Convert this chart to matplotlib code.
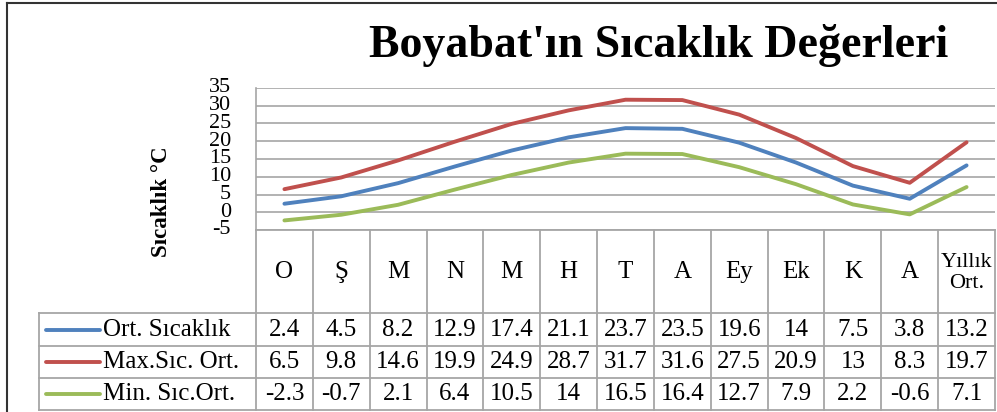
import numpy as np
import matplotlib
matplotlib.use("Agg")
import matplotlib.pyplot as plt

# ---- data ----
months = ["O", "Ş", "M", "N", "M", "H", "T", "A", "Ey", "Ek", "K", "A", "Yıllık\nOrt."]
series_names = ["Ort. Sıcaklık", "Max.Sıc. Ort.", "Min. Sıc.Ort."]
ort = [2.4, 4.5, 8.2, 12.9, 17.4, 21.1, 23.7, 23.5, 19.6, 14, 7.5, 3.8, 13.2]
maxs = [6.5, 9.8, 14.6, 19.9, 24.9, 28.7, 31.7, 31.6, 27.5, 20.9, 13, 8.3, 19.7]
mins = [-2.3, -0.7, 2.1, 6.4, 10.5, 14, 16.5, 16.4, 12.7, 7.9, 2.2, -0.6, 7.1]
yticks = [-5, 0, 5, 10, 15, 20, 25, 30, 35]
title = "Boyabat'ın Sıcaklık Değerleri"
ylabel = "Sıcaklık °C"

colors = ["#4F81BD", "#C0504D", "#9BBB59"]
series = [ort, maxs, mins]

SERIF = ["Liberation Serif", "DejaVu Serif"]
W, H = 997, 412
fig = plt.figure(figsize=(W / 100, H / 100), dpi=100)
fig.patch.set_facecolor("white")

# overlay axes in pixel coordinates (for table & frame)
ov = fig.add_axes([0, 0, 1, 1], zorder=0)
ov.set_xlim(0, W)
ov.set_ylim(H, 0)
ov.axis("off")

# chart axes
px_left, px_right, px_top, px_bot = 256, 995, 88, 230
ax = fig.add_axes([px_left / W, 1 - px_bot / H, (px_right - px_left) / W, (px_bot - px_top) / H], zorder=2)
ax.patch.set_alpha(0)
n = len(months)
x = np.arange(n) + 0.5
for s, c in zip(series, colors):
    ax.plot(x, s, color=c, lw=2.8, solid_capstyle="round", solid_joinstyle="round", zorder=3)
ax.set_xlim(0, n)
ax.set_ylim(-5, 35)
ax.set_yticks(yticks)
ax.set_yticklabels([str(t) for t in yticks], fontfamily=SERIF, fontsize=16)
ax.set_xticks([])
ax.tick_params(axis="y", length=0, pad=18)
ax.yaxis.grid(True, color="#a6a6a6", lw=1.2)
for sp in ["top", "right", "bottom"]:
    ax.spines[sp].set_visible(False)
ax.spines["left"].set_color("#a6a6a6")
ax.spines["left"].set_linewidth(1.2)
for lbl in ax.get_yticklabels():
    lbl.set_verticalalignment("center")

# title and y label
ov.text(659, 57, title, ha="center", va="baseline", fontfamily=SERIF, fontweight="bold", fontsize=33)
ov.text(161, 202, ylabel, ha="center", va="center", rotation=90, fontfamily=SERIF, fontweight="bold", fontsize=16.5)

# outer frame
ov.plot([7, 7], [3, H], color="#333333", lw=1.5)
ov.plot([7, W], [3, 3], color="#333333", lw=1.5)

# data table
gc = "#a6a6a6"
col_edges = np.linspace(px_left, px_right, n + 1)
row_edges = [313, 346, 378, 410]
leg_left = 39
for xe in col_edges:
    ov.plot([xe, xe], [px_bot, row_edges[-1]], color=gc, lw=1.3)
ov.plot([leg_left, leg_left], [row_edges[0], row_edges[-1]], color=gc, lw=1.3)
ov.plot([px_left, px_right], [px_bot, px_bot], color=gc, lw=1.3)
for ye in row_edges:
    ov.plot([leg_left, px_right], [ye, ye], color=gc, lw=1.3)

centers = (col_edges[:-1] + col_edges[1:]) / 2
for i, m in enumerate(months):
    if "\n" in m:
        ov.text(centers[i], 273, m, ha="center", va="center", fontfamily=SERIF, fontsize=16, linespacing=1.15)
    else:
        ov.text(centers[i], 272, m, ha="center", va="center", fontfamily=SERIF, fontsize=18)

for r, (name, s, c) in enumerate(zip(series_names, series, colors)):
    yc = (row_edges[r] + row_edges[r + 1]) / 2
    ov.plot([46, 100], [yc, yc], color=c, lw=2.8, solid_capstyle="round")
    ov.text(103, yc, name, ha="left", va="center", fontfamily=SERIF, fontsize=18)
    for i, v in enumerate(s):
        ov.text(centers[i], yc, f"{v:g}", ha="center", va="center", fontfamily=SERIF, fontsize=18)

fig.savefig("out.png", dpi=100, facecolor="white")
